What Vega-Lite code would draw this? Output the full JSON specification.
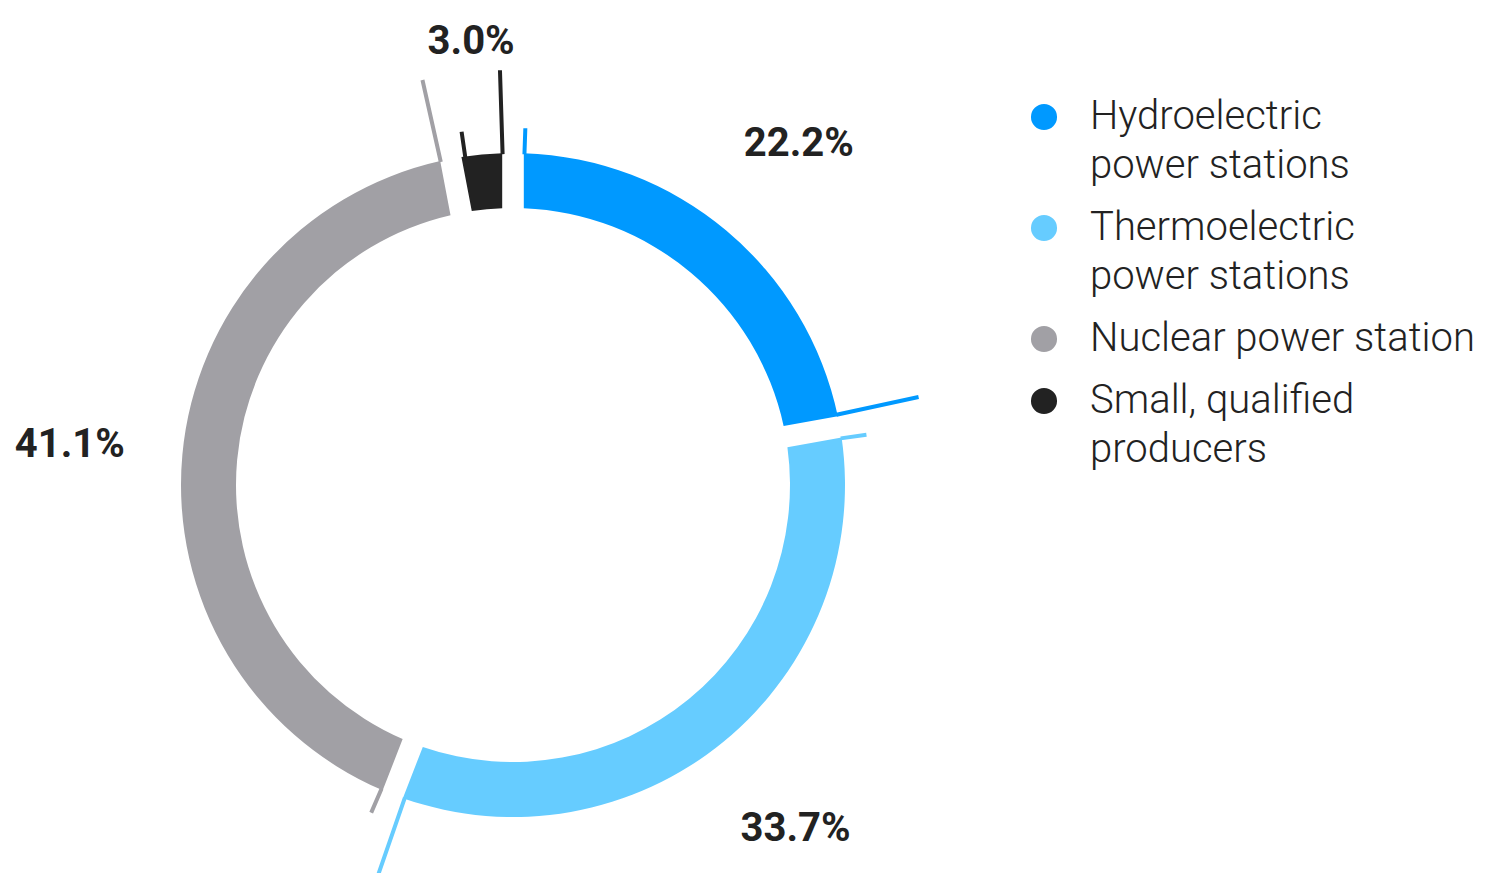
{
  "$schema": "https://vega.github.io/schema/vega-lite/v6.json",
  "width": 1026,
  "height": 776,
  "autosize": {"type": "none"},
  "padding": {"left": 0, "top": 97, "right": 466, "bottom": 0},
  "background": "white",
  "config": {"view": {"stroke": null}, "font": "Roboto"},
  "data": {
    "values": [
      {"category": "Hydroelectric power stations", "value": 0.222, "o": 1},
      {"category": "Thermoelectric power stations", "value": 0.337, "o": 2},
      {"category": "Nuclear power station", "value": 0.411, "o": 3},
      {"category": "Small, qualified producers", "value": 0.030, "o": 4}
    ]
  },
  "layer": [
    {
      "mark": {"type": "arc", "innerRadius": 277, "outerRadius": 332, "padAngle": 0.05},
      "encoding": {
        "theta": {"field": "value", "type": "quantitative", "stack": true, "scale": {"domain": [0, 1]}},
        "order": {"field": "o", "type": "quantitative"},
        "color": {
          "field": "category",
          "type": "nominal",
          "scale": {
            "domain": ["Hydroelectric power stations", "Thermoelectric power stations", "Nuclear power station", "Small, qualified producers"],
            "range": ["#0099ff", "#66ccff", "#a1a0a5", "#222222"]
          },
          "legend": {
            "title": null,
            "orient": "right",
            "offset": -2,
            "symbolType": "circle",
            "symbolSize": 680,
            "symbolStrokeWidth": 0,
            "labelFont": "Roboto",
            "labelFontSize": 40,
            "labelFontWeight": 300,
            "labelColor": "#222222",
            "labelOffset": 26,
            "labelLimit": 600,
            "rowPadding": 22,
            "labelExpr": "datum.label == 'Nuclear power station' ? datum.label : datum.label == 'Small, qualified producers' ? ['Small, qualified', 'producers'] : [replace(datum.label, ' power stations', ''), 'power stations']",
            "encode": {"labels": {"update": {"lineHeight": {"value": 49}}}}
          }
        }
      }
    },
    {
      "data": {
        "values": [
          {"category": "Hydroelectric power stations", "pos": 0.0055},
          {"category": "Thermoelectric power stations", "pos": 0.2275},
          {"category": "Nuclear power station", "pos": 0.565},
          {"category": "Small, qualified producers", "pos": 0.977}
        ]
      },
      "mark": {"type": "arc", "innerRadius": 331, "outerRadius": 357, "strokeWidth": 4, "filled": false},
      "encoding": {
        "theta": {"field": "pos", "type": "quantitative", "scale": {"domain": [0, 1]}},
        "theta2": {"field": "pos"},
        "stroke": {
          "field": "category",
          "type": "nominal",
          "scale": {
            "domain": ["Hydroelectric power stations", "Thermoelectric power stations", "Nuclear power station", "Small, qualified producers"],
            "range": ["#0099ff", "#66ccff", "#a1a0a5", "#222222"]
          },
          "legend": null
        }
      }
    },
    {
      "data": {
        "values": [
          {"category": "Hydroelectric power stations", "pos": 0.216},
          {"category": "Thermoelectric power stations", "pos": 0.553},
          {"category": "Nuclear power station", "pos": 0.965},
          {"category": "Small, qualified producers", "pos": 0.995}
        ]
      },
      "mark": {"type": "arc", "innerRadius": 331, "outerRadius": 415, "strokeWidth": 4, "filled": false},
      "encoding": {
        "theta": {"field": "pos", "type": "quantitative", "scale": {"domain": [0, 1]}},
        "theta2": {"field": "pos"},
        "stroke": {
          "field": "category",
          "type": "nominal",
          "scale": {
            "domain": ["Hydroelectric power stations", "Thermoelectric power stations", "Nuclear power station", "Small, qualified producers"],
            "range": ["#0099ff", "#66ccff", "#a1a0a5", "#222222"]
          },
          "legend": null
        }
      }
    },
    {
      "mark": {"type": "text", "radius": 445, "fontSize": 40, "fontWeight": "bold", "font": "Roboto", "color": "#222222"},
      "encoding": {
        "theta": {"field": "value", "type": "quantitative", "stack": true, "scale": {"domain": [0, 1]}},
        "order": {"field": "o", "type": "quantitative"},
        "text": {"field": "value", "type": "quantitative", "format": ".1%"}
      }
    }
  ]
}
